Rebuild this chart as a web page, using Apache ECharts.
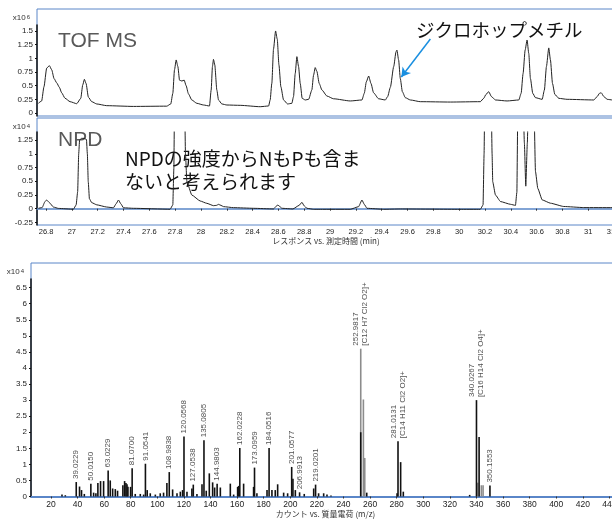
<!DOCTYPE html>
<html>
<head>
<meta charset="utf-8">
<script src="https://cdn.jsdelivr.net/npm/echarts@6/dist/echarts.min.js"></script>
<style>
html, body { margin: 0; padding: 0; background: #fff; }
#chart { width: 612px; height: 519px; }
</style>
</head>
<body>
<div id="chart"></div>
<script>
// retention time (min) and TOF MS response (x10^6)
const tofTime = [26.741, 26.766, 26.784, 26.805, 26.826, 26.844, 26.862, 26.883, 26.903, 26.921, 26.947, 26.986, 27.038, 27.069, 27.084, 27.097, 27.110, 27.128, 27.154, 27.193, 27.270, 27.477, 27.735, 27.766, 27.782, 27.795, 27.808, 27.821, 27.834, 27.852, 27.870, 27.885, 27.903, 27.929, 27.968, 28.020, 28.066, 28.079, 28.089, 28.097, 28.107, 28.123, 28.136, 28.162, 28.201, 28.304, 28.459, 28.524, 28.536, 28.549, 28.562, 28.578, 28.591, 28.604, 28.619, 28.640, 28.671, 28.704, 28.717, 28.730, 28.743, 28.756, 28.769, 28.784, 28.808, 28.834, 28.859, 28.872, 28.885, 28.898, 28.916, 28.937, 28.976, 29.027, 29.157, 29.247, 29.265, 29.281, 29.299, 29.317, 29.337, 29.376, 29.428, 29.446, 29.467, 29.493, 29.511, 29.518, 29.531, 29.544, 29.560, 29.583, 29.622, 29.699, 29.932, 30.164, 30.190, 30.208, 30.229, 30.250, 30.281, 30.371, 30.462, 30.480, 30.495, 30.511, 30.526, 30.539, 30.552, 30.570, 30.591, 30.643, 30.660, 30.676, 30.694, 30.707, 30.723, 30.741, 30.772, 30.836, 31.043, 31.069, 31.087, 31.100, 31.121, 31.146, 31.188, 31.300];
const tofResp = [0.177, 0.22, 0.48, 0.82, 0.865, 0.79, 0.63, 0.55, 0.47, 0.37, 0.27, 0.207, 0.17, 0.268, 0.51, 0.615, 0.54, 0.29, 0.207, 0.165, 0.134, 0.12, 0.125, 0.165, 0.36, 0.79, 0.97, 0.85, 0.6, 0.585, 0.6, 0.5, 0.35, 0.238, 0.177, 0.146, 0.128, 0.42, 0.85, 0.98, 0.88, 0.42, 0.238, 0.165, 0.146, 0.14, 0.115, 0.128, 0.238, 0.543, 1.17, 1.5, 1.35, 0.88, 0.48, 0.238, 0.165, 0.177, 0.3, 0.72, 1.03, 0.85, 0.54, 0.268, 0.238, 0.25, 0.42, 0.69, 0.83, 0.76, 0.54, 0.42, 0.31, 0.26, 0.22, 0.238, 0.36, 0.57, 0.676, 0.54, 0.37, 0.26, 0.238, 0.3, 0.47, 0.85, 1.12, 1.15, 0.97, 0.63, 0.39, 0.28, 0.238, 0.207, 0.2, 0.207, 0.268, 0.34, 0.39, 0.3, 0.238, 0.22, 0.238, 0.36, 0.72, 1.15, 1.335, 1.09, 0.63, 0.36, 0.28, 0.25, 0.42, 0.85, 1.19, 0.97, 0.54, 0.34, 0.268, 0.25, 0.238, 0.3, 0.36, 0.37, 0.3, 0.25, 0.238, 0.238];

// retention time (min) and NPD response (x10^4); tall peaks run off the top
const npdTime = [26.741, 26.770, 26.792, 26.805, 26.826, 26.857, 26.896, 27.012, 27.033, 27.045, 27.053, 27.060, 27.075, 27.095, 27.113, 27.120, 27.127, 27.136, 27.154, 27.193, 27.270, 27.322, 27.343, 27.361, 27.379, 27.400, 27.477, 27.761, 27.782, 27.790, 27.797, 27.830, 27.871, 27.880, 27.891, 27.929, 27.994, 28.045, 28.097, 28.120, 28.136, 28.155, 28.175, 28.252, 28.407, 28.562, 28.585, 28.596, 28.610, 28.627, 28.712, 28.760, 28.782, 28.800, 28.821, 28.872, 28.924, 29.157, 29.221, 29.247, 29.265, 29.286, 29.415, 29.544, 30.003, 30.164, 30.185, 30.193, 30.200, 30.225, 30.247, 30.255, 30.260, 30.281, 30.320, 30.397, 30.436, 30.447, 30.455, 30.490, 30.505, 30.516, 30.528, 30.540, 30.575, 30.591, 30.609, 30.643, 30.707, 30.810, 30.965, 31.188, 31.300];
const npdResp = [0.007, 0.02, 0.13, 0.158, 0.11, 0.03, 0.005, -0.01, 0.067, 0.31, 1.0, 1.25, 1.28, 1.28, 1.26, 1.0, 0.49, 0.18, 0.11, 0.07, 0.03, 0.016, 0.09, 0.158, 0.09, 0.016, 0.007, -0.01, 0.067, 0.73, 2.4, 3.2, 2.4, 1.0, 0.49, 0.249, 0.14, 0.098, 0.055, 0.06, 0.079, 0.06, 0.037, 0.019, 0.007, -0.005, 0.05, 0.067, 0.04, 0.007, -0.005, 0.06, 0.116, 0.05, 0.007, -0.011, -0.011, -0.011, 0.037, 0.158, 0.079, 0.007, -0.011, -0.005, -0.011, -0.011, 0.067, 1.0, 2.4, 3.0, 2.2, 1.0, 0.49, 0.25, 0.13, 0.08, 0.06, 0.3, 2.0, 2.6, 1.2, 0.41, 1.2, 2.4, 2.4, 0.68, 0.37, 0.16, 0.1, 0.04, 0.02, 0.019, 0.019];

// mass spectrum (counts x10^4)
const specMz = [28.3, 30.8, 39.0229, 41.5, 43.0, 45.1, 50.0150, 52.1, 53.8, 55.3, 57.3, 59.6, 63.0229, 64.6, 66.4, 68.4, 70.1, 74.1, 75.4, 76.4, 77.2, 77.9, 79.9, 81.0700, 83.4, 87.2, 89.7, 91.0541, 92.4, 94.7, 98.5, 102.2, 104.7, 107.2, 108.9838, 111.5, 114.8, 117.3, 119.0, 120.0568, 122.3, 126.0, 127.0538, 129.8, 133.6, 135.0805, 136.8, 139.1, 141.6, 143.1, 144.9803, 147.4, 154.9, 157.4, 160.4, 161.2, 162.0228, 164.9, 172.4, 173.0959, 174.9, 182.5, 184.0516, 186.2, 188.7, 190.5, 195.0, 198.0, 201.0577, 202.0, 203.8, 206.9913, 210.5, 217.6, 219.0201, 221.3, 225.1, 227.6, 230.6, 252.9817, 257.5, 280.3, 281.0131, 283.0, 285.0, 334.9, 340.0267, 342.0, 350.1553];
const specInt = [0.06, 0.04, 0.45, 0.31, 0.2, 0.08, 0.40, 0.12, 0.1, 0.42, 0.48, 0.48, 0.81, 0.5, 0.25, 0.23, 0.18, 0.35, 0.48, 0.42, 0.38, 0.3, 0.3, 0.88, 0.08, 0.08, 0.06, 1.02, 0.2, 0.1, 0.06, 0.1, 0.12, 0.42, 0.76, 0.22, 0.1, 0.15, 0.2, 1.87, 0.15, 0.25, 0.37, 0.08, 0.38, 1.75, 0.18, 0.72, 0.44, 0.28, 0.40, 0.28, 0.4, 0.06, 0.3, 0.33, 1.51, 0.4, 0.3, 0.90, 0.1, 0.2, 1.51, 0.2, 0.2, 0.38, 0.12, 0.1, 0.92, 0.55, 0.2, 0.13, 0.08, 0.25, 0.37, 0.1, 0.1, 0.06, 0.03, 2.0, 0.12, 0.1, 1.72, 1.07, 0.15, 0.05, 3.0, 1.85, 0.34];
// lighter (grey) bars
const greyMz = [252.9817, 254.98, 256.0, 341.0, 343.7, 345.0];
const greyInt = [4.6, 3.02, 1.2, 0.43, 0.35, 0.35];

const labelMz = [39.0229, 50.0150, 63.0229, 81.0700, 91.0541, 108.9838, 120.0568, 127.0538, 135.0805, 144.9803, 162.0228, 173.0959, 184.0516, 201.0577, 206.9913, 219.0201, 252.9817, 281.0131, 340.0267, 350.1553];
const labelText = ['39.0229', '50.0150', '63.0229', '81.0700', '91.0541', '108.9838', '120.0568', '127.0538', '135.0805', '144.9803', '162.0228', '173.0959', '184.0516', '201.0577', '206.9913', '219.0201',
  '252.9817\n[C12 H7 Cl2 O2]+', '281.0131\n[C14 H11 Cl2 O2]+', '340.0267\n[C16 H14 Cl2 O4]+', '350.1553'];

const timeTicks = [26.8, 27, 27.2, 27.4, 27.6, 27.8, 28, 28.2, 28.4, 28.6, 28.8, 29, 29.2, 29.4, 29.6, 29.8, 30, 30.2, 30.4, 30.6, 30.8, 31, 31.2];
const tofTicks = [0, 0.25, 0.5, 0.75, 1, 1.25, 1.5];
const npdTicks = [-0.25, 0, 0.25, 0.5, 0.75, 1, 1.25];
const mzTicks = [20, 40, 60, 80, 100, 120, 140, 160, 180, 200, 220, 240, 260, 280, 300, 320, 340, 360, 380, 400, 420, 440];
const countTicks = [0, 0.5, 1, 1.5, 2, 2.5, 3, 3.5, 4, 4.5, 5, 5.5, 6, 6.5];

const FONT = '"Liberation Sans", Arial, sans-serif';
const JP = '"Noto Sans CJK JP", sans-serif';
const BLUE = '#5a86c8';

const chart = echarts.init(document.getElementById('chart'));

function frameAxis(i) {
  return { gridIndex: i, type: 'value', show: false, min: 0, max: 1 };
}
function expName(p) {
  return {
    name: '{a|x10}{b|' + p + '}',
    nameLocation: 'end',
    nameTextStyle: {
      align: 'right', padding: [0, 7, 0, 0],
      rich: {
        a: { fontSize: 8, fontFamily: FONT, color: '#333' },
        b: { fontSize: 6, fontFamily: FONT, color: '#333', verticalAlign: 'top', padding: [0, 0, 0, 1] }
      }
    }
  };
}
const yBase = {
  type: 'value',
  splitLine: { show: false },
  axisLine: { show: true, lineStyle: { color: '#111', width: 1.5 } },
  axisLabel: { fontSize: 8, fontFamily: FONT, color: '#222', margin: 4 }
};

const specData = [];
greyMz.forEach((m, i) => specData.push({ value: [m, greyInt[i]], itemStyle: { color: '#8c8c8c' } }));
specMz.forEach((m, i) => specData.push({ value: [m, specInt[i]], itemStyle: { color: '#111' } }));

function topOf(m) {
  let v = 0;
  specMz.forEach((x, i) => { if (Math.abs(x - m) < 0.05) v = Math.max(v, specInt[i]); });
  greyMz.forEach((x, i) => { if (Math.abs(x - m) < 0.05) v = Math.max(v, greyInt[i]); });
  return v;
}

// panels run past the right edge of the page, as in the original
const g = (o) => Object.assign({ outerBoundsMode: 'none', containLabel: false }, o);

const option = {
  animation: false,
  grid: [
    g({ left: 37, top: 9, width: 590, height: 107, show: true, borderColor: BLUE, borderWidth: 1 }),
    g({ left: 37, top: 25, width: 590, height: 91 }),
    g({ left: 37, top: 118, width: 590, height: 107, show: true, borderColor: BLUE, borderWidth: 1 }),
    g({ left: 37, top: 132, width: 590, height: 93 }),
    g({ left: 31, top: 263, width: 605, height: 233.5, show: true, borderColor: BLUE, borderWidth: 1 }),
    g({ left: 31, top: 279, width: 605, height: 217.5 })
  ],
  xAxis: [
    frameAxis(0),
    { gridIndex: 1, type: 'value', min: 26.73, max: 31.3, show: false },
    frameAxis(2),
    {
      gridIndex: 3, type: 'value', min: 26.73, max: 31.3,
      splitLine: { show: false },
      axisLine: { lineStyle: { color: BLUE, width: 1.5 } },
      axisTick: { length: 2, lineStyle: { color: '#333' }, customValues: timeTicks },
      axisLabel: { fontSize: 7.5, fontFamily: FONT, color: '#222', margin: 3, customValues: timeTicks },
      name: 'レスポンス vs. 測定時間 (min)', nameLocation: 'middle', nameGap: 11,
      nameTextStyle: { fontSize: 8, fontFamily: JP, color: '#333', padding: [0, 12, 0, 0] }
    },
    frameAxis(4),
    {
      gridIndex: 5, type: 'value', min: 5, max: 460,
      splitLine: { show: false },
      axisLine: { lineStyle: { color: BLUE, width: 2 } },
      axisTick: { length: 2, lineStyle: { color: '#333' }, customValues: mzTicks },
      axisLabel: { fontSize: 8.5, fontFamily: FONT, color: '#222', margin: 4, customValues: mzTicks },
      name: 'カウント vs. 質量電荷 (m/z)', nameLocation: 'middle', nameGap: 12,
      nameTextStyle: { fontSize: 8, fontFamily: JP, color: '#333', padding: [0, 16, 0, 0] }
    }
  ],
  yAxis: [
    frameAxis(0),
    Object.assign({}, yBase, expName(6), {
      gridIndex: 1, min: -0.055, max: 1.609, nameGap: 3,
      axisTick: { length: 2, lineStyle: { color: '#111' }, customValues: tofTicks },
      axisLabel: Object.assign({}, yBase.axisLabel, { customValues: tofTicks })
    }),
    frameAxis(2),
    Object.assign({}, yBase, expName(4), {
      gridIndex: 3, min: -0.297, max: 1.396, nameGap: 1,
      axisTick: { length: 2, lineStyle: { color: '#111' }, customValues: npdTicks },
      axisLabel: Object.assign({}, yBase.axisLabel, { customValues: npdTicks })
    }),
    frameAxis(4),
    Object.assign({}, yBase, expName(4), {
      gridIndex: 5, min: 0, max: 6.77, nameGap: 3,
      axisTick: { length: 2, lineStyle: { color: '#111' }, customValues: countTicks },
      axisLabel: Object.assign({}, yBase.axisLabel, { customValues: countTicks })
    })
  ],
  series: [
    {
      type: 'line', xAxisIndex: 1, yAxisIndex: 1,
      data: tofTime.map((t, i) => [t, tofResp[i]]),
      showSymbol: false, smooth: 0.2, smoothMonotone: 'x',
      lineStyle: { color: '#222', width: 1 },
      markLine: {
        silent: true, symbol: ['none', 'arrow'], symbolSize: [8, 9],
        label: { show: false },
        lineStyle: { color: '#1a8fe0', width: 1.5, type: 'solid' },
        data: [[{ coord: [29.777, 1.353] }, { coord: [29.552, 0.658] }]]
      }
    },
    {
      type: 'line', xAxisIndex: 3, yAxisIndex: 3,
      data: npdTime.map((t, i) => [t, npdResp[i]]),
      showSymbol: false, smooth: 0.15, smoothMonotone: 'x',
      lineStyle: { color: '#222', width: 1 }
    },
    {
      type: 'bar', xAxisIndex: 5, yAxisIndex: 5,
      barWidth: 1.6, data: specData
    },
    {
      type: 'scatter', xAxisIndex: 5, yAxisIndex: 5,
      symbolSize: 0,
      data: labelMz.map(m => [m, topOf(m)]),
      label: {
        show: true, position: 'top', distance: 3, rotate: 90,
        align: 'left', verticalAlign: 'middle',
        fontSize: 8, lineHeight: 9, fontFamily: FONT, color: '#222',
        formatter: p => labelText[p.dataIndex]
      }
    }
  ],
  graphic: [
    { type: 'text', x: 58, y: 41, style: { text: 'TOF MS', font: '21px "Liberation Sans", Arial', fill: '#595959', verticalAlign: 'middle' } },
    { type: 'text', x: 58, y: 140, style: { text: 'NPD', font: '21px "Liberation Sans", Arial', fill: '#595959', verticalAlign: 'middle' } },
    { type: 'text', x: 416, y: 30, style: { text: 'ジクロホップメチル', font: '18.5px "Noto Sans CJK JP"', fill: '#111', verticalAlign: 'middle' } },
    { type: 'text', x: 125, y: 170, style: { text: 'NPDの強度からNもPも含ま\nないと考えられます', font: '19px "Noto Sans CJK JP"', lineHeight: 23, fill: '#111', verticalAlign: 'middle' } }
  ]
};
chart.setOption(option);
</script>
</body>
</html>
